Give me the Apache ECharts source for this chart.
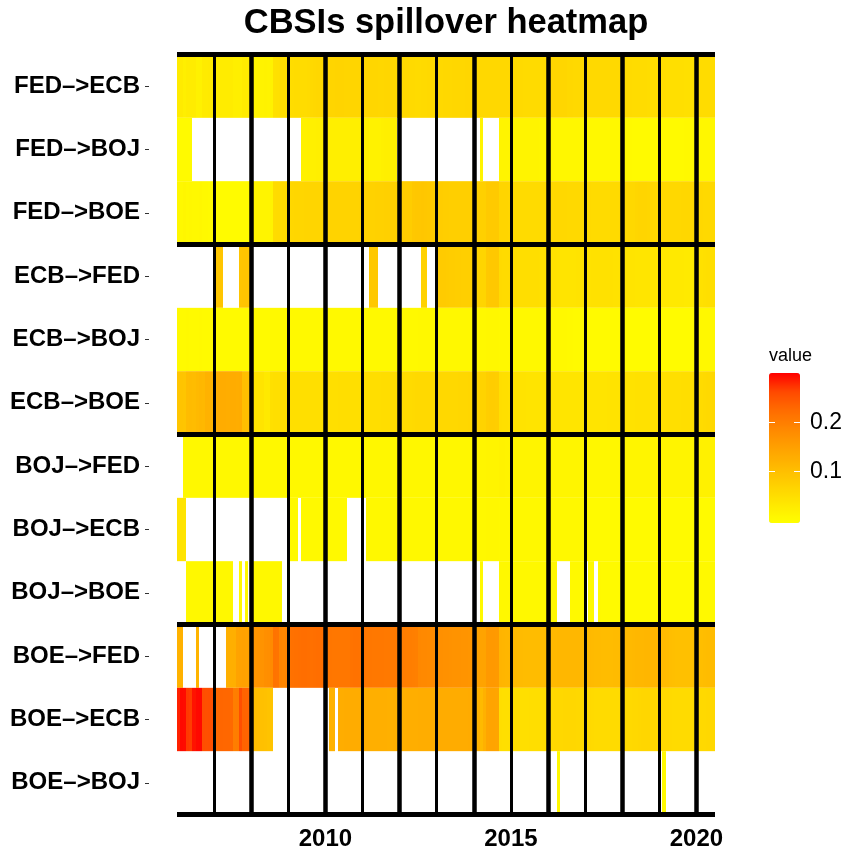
<!DOCTYPE html>
<html>
<head>
<meta charset="utf-8">
<title>CBSIs spillover heatmap</title>
<script src="https://cdn.jsdelivr.net/npm/echarts@6.0.0/dist/echarts.min.js"></script>
<style>
  html, body { margin: 0; padding: 0; background: #fff; }
  #chart { width: 845px; height: 853px; }
</style>
</head>
<body>
<div id="chart"></div>
<script>
// missing months are left blank
const _ = null;
const startYear = 2006;

const rowLabels = [
    'FED–>ECB', 'FED–>BOJ', 'FED–>BOE',
    'ECB–>FED', 'ECB–>BOJ', 'ECB–>BOE',
    'BOJ–>FED', 'BOJ–>ECB', 'BOJ–>BOE',
    'BOE–>FED', 'BOE–>ECB', 'BOE–>BOJ'
];

// monthly values, 2006-01 .. 2020-06 (one line per year)
const fedEcb = [
    .027,.027,.020,.026,.026,.026,.018,.018,.028,.028,.029,.029,
    .026,.026,.026,.025,.025,.026,.020,.020,.020,.027,.028,.028,
    .014,.014,.015,.014,.015,.014,.015,.045,.046,.047,.048,.048,
    .050,.051,.052,.052,.053,.053,.054,.058,.060,.061,.061,.062,
    .064,.065,.065,.066,.066,.066,.065,.065,.064,.064,.065,.065,
    .063,.063,.062,.062,.062,.061,.061,.062,.062,.062,.061,.061,
    .056,.057,.057,.056,.056,.055,.055,.056,.056,.057,.057,.058,
    .058,.058,.059,.060,.060,.061,.061,.061,.061,.062,.062,.062,
    .061,.061,.060,.060,.060,.060,.059,.059,.060,.060,.060,.060,
    .058,.057,.056,.056,.055,.055,.055,.054,.055,.055,.056,.056,
    .062,.063,.063,.063,.062,.062,.060,.059,.058,.058,.058,.058,
    .058,.058,.058,.057,.057,.057,.058,.058,.058,.058,.058,.058,
    .055,.054,.054,.053,.053,.052,.052,.052,.051,.051,.051,.051,
    .049,.049,.048,.048,.048,.047,.047,.047,.046,.046,.046,.047,
    .052,.052,.053,.053,.053,.052
];
const fedBoj = [
    .002,.002,.003,.003,.003,_,_,_,_,_,_,_,
    _,_,_,_,_,_,_,_,_,_,_,_,
    _,_,_,_,_,_,_,_,_,_,_,_,
    _,_,_,_,.018,.018,.019,.019,.019,.020,.020,.020,
    .020,.020,.021,.021,.021,.021,.020,.020,.020,.020,.020,.020,
    .020,.020,.016,.016,.016,.016,.019,.020,.020,.020,.020,_,
    _,_,_,_,_,_,_,_,_,_,_,_,
    _,_,_,_,_,_,_,_,_,_,_,_,
    _,_,.012,_,_,_,_,_,.012,.012,.013,.013,
    .013,.013,.013,.012,.012,.012,.012,.012,.012,.011,.011,.011,
    .009,.009,.008,.008,.008,.008,.008,.007,.007,.007,.007,.007,
    .006,.006,.005,.005,.005,.005,.005,.005,.005,.005,.005,.005,
    .004,.004,.004,.003,.003,.003,.003,.003,.003,.003,.003,.003,
    .003,.003,.003,.003,.003,.003,.003,.003,.004,.004,.004,.004,
    .007,.007,.008,.008,.008,.008
];
const fedBoe = [
    .008,.006,.009,.005,.007,.005,.006,.008,.004,.004,.003,.003,
    .001,.001,.001,.001,.001,.001,.001,.001,.001,.001,.001,.001,
    .012,.012,.012,.013,.013,.013,.014,.052,.054,.055,.056,.057,
    .060,.061,.062,.063,.063,.064,.064,.064,.065,.065,.065,.066,
    .066,.067,.067,.068,.068,.068,.067,.067,.068,.068,.068,.069,
    .069,.070,.070,.070,.071,.071,.071,.072,.072,.072,.073,.073,
    .076,.077,.078,.078,.086,.087,.087,.088,.087,.086,.082,.080,
    .078,.077,.076,.076,.075,.075,.075,.075,.074,.074,.074,.074,
    .074,.072,.072,.072,.082,.082,.082,.082,.065,.064,.064,.063,
    .057,.056,.056,.055,.055,.055,.055,.054,.054,.055,.055,.055,
    .058,.058,.059,.059,.060,.060,.058,.058,.057,.057,.057,.058,
    .056,.056,.055,.055,.055,.055,.055,.055,.056,.056,.056,.057,
    .058,.058,.059,.060,.062,.064,.065,.064,.063,.062,.061,.060,
    .060,.060,.060,.060,.060,.060,.060,.061,.061,.061,.061,.061,
    .059,.059,.058,.058,.058,.058
];
const ecbFed = [
    _,_,_,_,_,_,_,_,_,_,_,_,
    .088,.088,.090,_,_,_,_,_,.090,.092,.092,.090,
    _,_,_,_,_,_,_,_,_,_,_,_,
    _,_,_,_,_,_,_,_,_,_,_,_,
    _,_,_,_,_,_,_,_,_,_,_,_,
    _,_,.085,.086,.086,_,_,_,_,_,_,_,
    _,_,_,_,_,_,_,.070,.070,_,_,_,
    .080,.080,.080,.079,.078,.077,.076,.076,.075,.075,.075,.075,
    .070,.066,.065,.065,.084,.085,.085,.085,.056,.055,.055,.055,
    .052,.051,.050,.050,.050,.050,.049,.049,.049,.048,.048,.048,
    .045,.043,.042,.041,.040,.040,.040,.040,.040,.041,.041,.042,
    .043,.043,.044,.044,.044,.044,.044,.044,.044,.043,.043,.042,
    .040,.040,.039,.039,.038,.038,.038,.037,.037,.036,.036,.035,
    .034,.033,.032,.031,.030,.030,.030,.030,.029,.029,.029,.030,
    .044,.045,.046,.047,.047,.047
];
const ecbBoj = [
    .004,.003,.003,.004,.003,.003,.003,.004,.003,.003,.003,.003,
    .003,.003,.003,.003,.003,.003,.003,.003,.003,.003,.003,.003,
    .003,.003,.003,.003,.003,.003,.004,.004,.004,.004,.004,.004,
    .004,.004,.004,.004,.004,.004,.004,.004,.004,.004,.004,.004,
    .004,.004,.004,.004,.004,.004,.004,.004,.004,.004,.004,.004,
    .004,.004,.004,.004,.004,.004,.004,.004,.004,.004,.004,.004,
    .004,.004,.004,.004,.004,.004,.005,.005,.005,.005,.005,.005,
    .005,.005,.005,.005,.005,.005,.005,.005,.005,.005,.005,.005,
    .006,.006,.006,.006,.007,.007,.007,.007,.005,.005,.005,.005,
    .005,.005,.005,.005,.005,.005,.005,.005,.005,.005,.005,.005,
    .004,.004,.004,.004,.006,.006,.004,.004,.003,.003,.003,.003,
    .003,.003,.003,.003,.003,.003,.003,.003,.003,.003,.003,.003,
    .001,.001,.001,.001,.001,.001,.001,.001,.001,.001,.001,.001,
    .001,.001,.001,.001,.001,.001,.001,.001,.001,.001,.001,.001,
    .005,.005,.005,.005,.005,.005
];
const ecbBoe = [
    .090,.092,.091,.104,.106,.105,.110,.112,.111,.120,.121,.119,
    .126,.128,.130,.131,.129,.131,.130,.128,.130,.102,.100,.098,
    .042,.040,.040,.040,.030,.030,.046,.047,.048,.048,.048,.048,
    .048,.048,.048,.047,.047,.047,.047,.047,.047,.047,.048,.048,
    .048,.048,.048,.048,.049,.049,.049,.049,.048,.048,.048,.048,
    .049,.049,.050,.050,.050,.050,.051,.051,.051,.052,.052,.052,
    .053,.054,.055,.055,.056,.057,.057,.057,.058,.058,.058,.058,
    .059,.059,.060,.060,.060,.060,.060,.061,.061,.061,.062,.062,
    .064,.066,.067,.068,.076,.077,.077,.076,.050,.048,.047,.046,
    .044,.043,.042,.041,.041,.040,.040,.040,.040,.040,.041,.041,
    .040,.040,.039,.039,.038,.038,.038,.038,.038,.038,.038,.038,
    .039,.039,.040,.040,.040,.040,.040,.041,.041,.041,.041,.041,
    .042,.042,.043,.043,.044,.044,.045,.045,.045,.046,.046,.046,
    .046,.046,.047,.047,.047,.048,.048,.049,.049,.050,.050,.051,
    .054,.055,.056,.057,.058,.059
];
const bojFed = [
    _,_,.006,.006,.005,.005,.005,.005,.005,.005,.005,.005,
    .005,.005,.005,.005,.005,.005,.005,.005,.005,.005,.005,.005,
    .005,.005,.005,.005,.005,.005,.005,.005,.005,.005,.005,.005,
    .006,.006,.006,.006,.006,.006,.006,.006,.006,.006,.006,.006,
    .006,.006,.006,.006,.006,.006,.006,.006,.006,.006,.006,.006,
    .007,.007,.007,.007,.007,.007,.007,.007,.007,.007,.007,.007,
    .007,.007,.007,.007,.007,.007,.007,.007,.007,.007,.007,.007,
    .008,.008,.008,.008,.008,.008,.008,.008,.008,.008,.008,.008,
    .009,.010,.010,.010,.012,.012,.012,.012,.015,.015,.014,.014,
    .013,.013,.013,.013,.013,.013,.013,.013,.013,.013,.013,.013,
    .010,.010,.010,.010,.010,.010,.010,.010,.010,.010,.010,.010,
    .008,.008,.008,.008,.008,.008,.008,.008,.008,.008,.008,.008,
    .010,.010,.010,.010,.010,.010,.010,.010,.010,.010,.010,.010,
    .012,.012,.012,.012,.012,.012,.012,.012,.012,.012,.012,.012,
    .017,.017,.017,.017,.017,.017
];
const bojEcb = [
    .040,.041,.040,_,_,_,_,_,_,_,_,_,
    _,_,_,_,_,_,_,_,_,_,_,_,
    _,_,_,_,_,_,_,_,_,_,_,_,
    .004,.004,.004,_,.004,.004,.004,.004,.004,.004,.004,.004,
    .004,.004,.004,.004,.004,.004,.004,_,_,_,_,_,
    _,.005,.005,.005,.005,.005,.005,.005,.005,.005,.005,.005,
    .005,.005,.005,.005,.005,.005,.005,.005,.005,.005,.005,.005,
    .005,.005,.005,.005,.005,.005,.005,.005,.005,.005,.005,.005,
    .006,.006,.006,.006,.008,.008,.008,.008,.006,.006,.006,.006,
    .006,.006,.006,.006,.006,.006,.006,.006,.006,.006,.006,.006,
    .005,.005,.005,.005,.005,.005,.005,.005,.005,.005,.005,.005,
    .003,.003,.003,.003,.003,.003,.003,.003,.003,.003,.003,.003,
    .003,.003,.003,.003,.003,.003,.003,.003,.003,.003,.003,.003,
    .003,.003,.003,.003,.003,.003,.003,.003,.003,.003,.003,.003,
    .003,.003,.003,.003,.003,.003
];
const bojBoe = [
    _,_,_,.005,.005,.005,.005,.005,.005,.005,.005,.005,
    .005,.005,.005,.005,.005,.005,_,_,.005,_,.005,_,
    .005,.005,.005,.005,.005,.005,.005,.005,.005,.005,_,_,
    _,_,_,_,_,_,_,_,_,_,_,_,
    _,_,_,_,_,_,_,_,_,_,_,_,
    _,_,_,_,_,_,_,_,_,_,_,_,
    _,_,_,_,_,_,_,_,_,_,_,_,
    _,_,_,_,_,_,_,_,_,_,_,_,
    _,_,.004,_,_,_,_,_,.006,.006,.006,.006,
    .006,.006,.006,.006,.006,.006,.006,.006,.006,.006,.006,.006,
    .005,.005,.005,_,_,_,_,.004,.004,.004,.004,.004,
    _,.004,.004,_,.004,.003,.003,.003,.003,.003,.003,.003,
    .003,.003,.003,.003,.003,.003,.003,.003,.003,.003,.003,.003,
    .003,.003,.003,.003,.003,.003,.003,.003,.003,.003,.003,.003,
    .004,.004,.004,.004,.004,.004
];
const boeFed = [
    .120,.122,_,_,_,_,.118,_,_,_,_,_,
    _,_,_,_,.124,.125,.126,.145,.146,.148,.147,.150,
    .165,.166,.168,.170,.175,.178,.182,.215,.214,.190,.188,.190,
    .215,.218,.220,.221,.222,.222,.221,.220,.221,.222,.222,.221,
    .212,.211,.210,.210,.210,.210,.210,.210,.216,.217,.217,.216,
    .212,.210,.210,.209,.208,.208,.208,.207,.207,.206,.206,.206,
    .202,.201,.200,.200,.199,.198,.186,.185,.185,.184,.184,.183,
    .175,.174,.173,.172,.171,.170,.170,.169,.168,.168,.167,.167,
    .150,.146,.145,.145,.160,.161,.160,.159,.118,.116,.115,.114,
    .110,.108,.107,.106,.105,.105,.105,.104,.104,.104,.105,.105,
    .108,.109,.110,.111,.112,.112,.113,.113,.113,.112,.112,.111,
    .110,.109,.108,.107,.106,.105,.105,.105,.105,.106,.106,.106,
    .108,.109,.110,.111,.112,.113,.113,.114,.114,.113,.113,.112,
    .108,.106,.104,.102,.100,.099,.098,.098,.098,.099,.099,.100,
    .101,.102,.103,.104,.104,.104
];
const boeEcb = [
    .285,.297,.296,.272,.270,.292,.297,.298,.258,.257,.258,.256,
    .230,.230,.232,.231,.230,.228,.200,.202,.258,.235,.234,.233,
    .105,.102,.100,.098,.096,.094,.092,_,_,_,_,_,
    _,_,_,_,_,_,_,_,_,_,_,_,
    _,.120,.121,_,.128,.129,.130,.130,.131,.131,.130,.130,
    .128,.127,.126,.126,.125,.125,.125,.125,.124,.124,.125,.125,
    .126,.126,.127,.127,.127,.127,.128,.128,.128,.128,.129,.129,
    .130,.130,.130,.131,.131,.131,.131,.131,.131,.131,.132,.132,
    .132,.120,.108,.122,.142,.143,.143,.142,.050,.048,.047,.047,
    .047,.047,.048,.048,.048,.048,.049,.049,.050,.050,.051,.051,
    .056,.058,.059,.060,.060,.061,.061,.061,.061,.060,.060,.060,
    .058,.057,.056,.055,.055,.054,.054,.054,.054,.055,.055,.055,
    .056,.057,.058,.059,.060,.061,.062,.062,.062,.061,.061,.060,
    .059,.058,.057,.056,.055,.055,.054,.054,.054,.054,.055,.055,
    .056,.057,.058,.059,.060,.060
];
const boeBoj = [
    _,_,_,_,_,_,_,_,_,_,_,_,
    _,_,_,_,_,_,_,_,_,_,_,_,
    _,_,_,_,_,_,_,_,_,_,_,_,
    _,_,_,_,_,_,_,_,_,_,_,_,
    _,_,_,_,_,_,_,_,_,_,_,_,
    _,_,_,_,_,_,_,_,_,_,_,_,
    _,_,_,_,_,_,_,_,_,_,_,_,
    _,_,_,_,_,_,_,_,_,_,_,_,
    _,_,_,_,_,_,_,_,_,_,_,_,
    _,_,_,_,_,_,_,_,_,_,_,_,
    _,_,_,.005,_,_,_,_,_,_,_,_,
    _,_,_,_,_,_,_,_,_,_,_,_,
    _,_,_,_,_,_,_,_,_,_,_,_,
    _,.004,_,_,_,_,_,_,_,_,_,_,
    _,_,_,_,_,_
];

const rows = [fedEcb, fedBoj, fedBoe, ecbFed, ecbBoj, ecbBoe,
              bojFed, bojEcb, bojBoe, boeFed, boeEcb, boeBoj];

const yearTicks = [2010, 2015, 2020];
const yearLines = [2007, 2008, 2009, 2010, 2011, 2012, 2013, 2014, 2015, 2016, 2017, 2018, 2019, 2020];
const groupLines = [0, 3, 6, 9, 12];
const legendTicks = [0.1, 0.2];
const valueMin = -0.006;
const valueMax = 0.302;

document.addEventListener('DOMContentLoaded', function () {
    const font = '"Liberation Sans", Arial, Helvetica, sans-serif';
    // yellow -> red, sampled along a Lab ramp like ggplot's gradient
    const palette = ['#FFFF00', '#FFE800', '#FFD100', '#FFB900', '#FFA100',
                     '#FF8800', '#FF6C00', '#FF4900', '#FF0000'];

    const cells = [];
    rows.forEach((vals, r) => {
        vals.forEach((v, m) => {
            if (v !== null) cells.push([startYear + m / 12, r, v]);
        });
    });

    const renderCell = (params, api) => {
        const t = api.value(0);
        const r = api.value(1);
        const p0 = api.coord([t, r]);
        const p1 = api.coord([t + 1 / 12, r + 1]);
        const x0 = Math.round(p0[0]);
        const x1 = Math.round(p1[0]);
        return {
            type: 'rect',
            shape: { x: x0, y: p0[1], width: x1 - x0, height: p1[1] - p0[1] },
            style: { fill: api.visual('color') }
        };
    };

    const lineData = yearLines.map(y => ({ xAxis: y, lineStyle: { width: y % 2 === 0 ? 4.5 : 3 } }))
        .concat(groupLines.map(g => ({ yAxis: g, lineStyle: { width: 5 } })));

    const chart = echarts.init(document.getElementById('chart'), null, { renderer: 'canvas' });
    chart.setOption({
        animation: false,
        backgroundColor: '#fff',
        title: [
            {
                text: 'CBSIs spillover heatmap',
                left: 446, top: 6, textAlign: 'center', padding: 0,
                textStyle: { fontFamily: font, fontSize: 34.5, fontWeight: 'bold', color: '#000' }
            },
            {
                text: 'value', left: 769, top: 347, padding: 0,
                textStyle: { fontFamily: font, fontSize: 18, fontWeight: 'normal', color: '#000' }
            }
        ],
        grid: [
            { left: 177, top: 54.5, width: 538, height: 760, outerBoundsMode: 'none' },
            { left: 769, top: 373, width: 31, height: 150, outerBoundsMode: 'none' }
        ],
        xAxis: [
            {
                type: 'value', gridIndex: 0, min: 2006, max: 2020.5, offset: 4.5,
                splitLine: { show: false },
                axisLine: { show: false },
                axisTick: { show: true, customValues: yearTicks, length: 4, lineStyle: { color: '#333', width: 1 } },
                axisLabel: {
                    customValues: yearTicks, margin: 8, formatter: v => String(v),
                    fontFamily: font, fontSize: 24, fontWeight: 'bold', color: '#000'
                }
            },
            { type: 'value', gridIndex: 1, min: 0, max: 1, show: false }
        ],
        yAxis: [
            {
                type: 'category', gridIndex: 0, position: 'left', inverse: true,
                data: rowLabels, offset: 28,
                axisLine: { show: false },
                axisTick: { show: true, alignWithLabel: true, length: 4, lineStyle: { color: '#333', width: 1 } },
                axisLabel: { margin: 9, fontFamily: font, fontSize: 24, fontWeight: 'bold', color: '#000' },
                splitLine: { show: false }
            },
            { type: 'value', gridIndex: 0, inverse: true, min: 0, max: 12, show: false },
            {
                type: 'value', gridIndex: 1, position: 'left', min: valueMin, max: valueMax, z: 10,
                axisLine: { show: false },
                axisTick: { show: true, inside: true, length: 6, customValues: legendTicks, lineStyle: { color: '#fff', width: 1 } },
                axisLabel: { show: false },
                splitLine: { show: false }
            },
            {
                type: 'value', gridIndex: 1, position: 'right', min: valueMin, max: valueMax, z: 10,
                axisLine: { show: false },
                axisTick: { show: true, inside: true, length: 6, customValues: legendTicks, lineStyle: { color: '#fff', width: 1 } },
                axisLabel: {
                    customValues: legendTicks, margin: 10, formatter: v => v.toFixed(1),
                    fontFamily: font, fontSize: 23, color: '#000'
                },
                splitLine: { show: false }
            }
        ],
        visualMap: {
            type: 'continuous', seriesIndex: 0, dimension: 2,
            min: valueMin, max: valueMax,
            inRange: { color: palette },
            calculable: false, hoverLink: false,
            text: ['', ''],
            left: 769, top: 373, itemWidth: 31, itemHeight: 150, padding: 0
        },
        series: [
            {
                type: 'custom', xAxisIndex: 0, yAxisIndex: 1, z: 2, silent: true,
                data: cells, renderItem: renderCell
            },
            {
                type: 'line', xAxisIndex: 0, yAxisIndex: 1, z: 5, silent: true, data: [],
                markLine: {
                    silent: true, symbol: ['none', 'none'], animation: false,
                    label: { show: false },
                    lineStyle: { color: '#000', type: 'solid' },
                    data: lineData
                }
            }
        ]
    });
    window.addEventListener('resize', () => chart.resize());
});
</script>
</body>
</html>
